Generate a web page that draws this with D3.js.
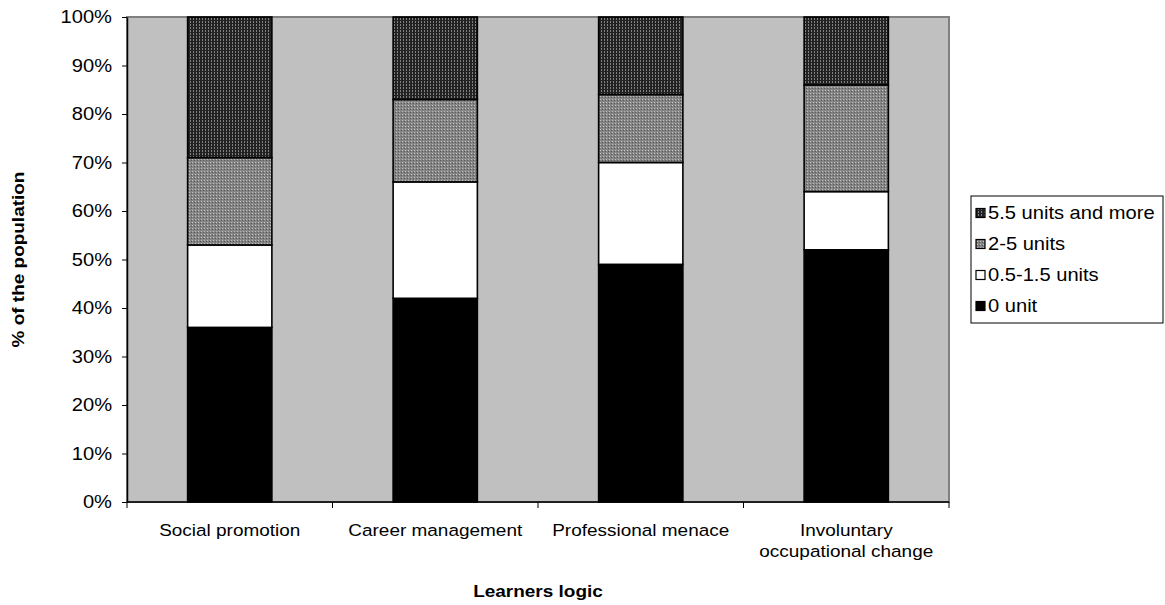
<!DOCTYPE html>
<html>
<head>
<meta charset="utf-8">
<script src="https://cdn.jsdelivr.net/npm/d3@7"></script>
<style>
  body { margin: 0; background: #fff; }
  text { font-family: "Liberation Sans", Arial, sans-serif; }
</style>
</head>
<body>
<svg width="1165" height="605"></svg>
<script>
// data
var categories = ["Social promotion", "Career management", "Professional menace", "Involuntary occupational change"];
var catLines = [["Social promotion"], ["Career management"], ["Professional menace"], ["Involuntary", "occupational change"]];
var seriesNames = ["0 unit", "0.5-1.5 units", "2-5 units", "5.5 units and more"];
var zeroUnit = [36, 42, 49, 52];
var halfUnits = [17, 24, 21, 12];
var twoFive = [18, 17, 14, 22];
var fivePlus = [29, 17, 16, 14];
var yTicks = [0, 10, 20, 30, 40, 50, 60, 70, 80, 90, 100];

var svg = d3.select('svg');
// plot box (note: "top" is a window global, so use other names)
var plotL = 127, plotR = 949, plotT = 17, plotB = 502;
var fs = 16.5, sx = 1.15; // the original chart looks stretched sideways

// stretched text helper
function stext(sel, x, y, rot, size) {
  return sel.append('g')
    .attr('transform', 'translate(' + x + ',' + y + ')' + (rot ? ' rotate(' + rot + ')' : '') + ' scale(' + sx + ',1)')
    .append('text').attr('font-size', size || fs).attr('fill', '#000');
}

// patterns
var defs = svg.append('defs');
var pDark = defs.append('pattern').attr('id', 'pdark').attr('patternUnits', 'userSpaceOnUse')
  .attr('width', 3).attr('height', 3);
pDark.append('rect').attr('width', 3).attr('height', 3).attr('fill', '#222');
pDark.append('rect').attr('x', 1).attr('y', 0).attr('width', 1).attr('height', 2).attr('fill', '#808080');
var pMid = defs.append('pattern').attr('id', 'pmid').attr('patternUnits', 'userSpaceOnUse')
  .attr('width', 3).attr('height', 3);
pMid.append('rect').attr('width', 3).attr('height', 3).attr('fill', '#858585');
pMid.append('rect').attr('x', 0).attr('y', 0).attr('width', 1).attr('height', 1).attr('fill', '#bdbdbd');
pMid.append('rect').attr('x', 2).attr('y', 1).attr('width', 1).attr('height', 1).attr('fill', '#555');

var fills = ['#000', '#fff', 'url(#pmid)', 'url(#pdark)'];

var x = d3.scaleBand().domain(categories).range([plotL, plotR]).paddingInner(0.59).paddingOuter(0.295);
var y = d3.scaleLinear().domain([0, 100]).range([plotB, plotT]);

// plot area
svg.append('rect').attr('x', plotL).attr('y', plotT).attr('width', plotR - plotL).attr('height', plotB - plotT)
  .attr('fill', '#c0c0c0').attr('stroke', '#808080').attr('stroke-width', 2);

// stack
var rows = categories.map((c, i) => ({
  cat: c, "0 unit": zeroUnit[i], "0.5-1.5 units": halfUnits[i], "2-5 units": twoFive[i], "5.5 units and more": fivePlus[i]
}));
var stacked = d3.stack().keys(seriesNames)(rows);

svg.append('g').selectAll('g').data(stacked).join('g')
  .attr('fill', (d, i) => fills[i])
  .selectAll('rect').data(d => d).join('rect')
  .attr('x', d => x(d.data.cat))
  .attr('y', d => y(d[1]))
  .attr('width', x.bandwidth())
  .attr('height', d => y(d[0]) - y(d[1]))
  .attr('stroke', '#000').attr('stroke-width', 1.6);

// y axis
var yAxis = svg.append('g').attr('transform', 'translate(' + plotL + ',0)')
  .call(d3.axisLeft(y).tickValues(yTicks).tickFormat(d => d + '%').tickSize(5).tickSizeOuter(0));
yAxis.select('.domain').attr('stroke', '#000').attr('stroke-width', 1.5);
yAxis.selectAll('.tick line').attr('stroke', '#000');
yAxis.selectAll('text').attr('font-size', 17.5).attr('fill', '#000')
  .attr('x', -15 / sx).attr('transform', 'scale(' + sx + ',1)')
  .style('font-family', '"Liberation Sans", Arial, sans-serif');

// x axis
var xa = svg.append('g');
xa.append('line').attr('x1', plotL).attr('x2', plotR).attr('y1', plotB).attr('y2', plotB)
  .attr('stroke', '#000').attr('stroke-width', 1.5);
var step = x.step();
d3.range(categories.length + 1).forEach(i => {
  var xx = plotL + i * step;
  xa.append('line').attr('x1', xx).attr('x2', xx).attr('y1', plotB).attr('y2', plotB + 6).attr('stroke', '#000');
});
categories.forEach((c, i) => {
  var t = stext(xa, x(c) + x.bandwidth() / 2, 536).attr('text-anchor', 'middle');
  catLines[i].forEach((l, j) => t.append('tspan').attr('x', 0).attr('dy', j ? 21 : 0).text(l));
});

// axis titles
stext(svg, (plotL + plotR) / 2, 597).attr('text-anchor', 'middle')
  .attr('font-weight', 'bold').text('Learners logic');
stext(svg, 24, (plotT + plotB) / 2, -90).attr('text-anchor', 'middle')
  .attr('font-weight', 'bold').text('% of the population');

// legend
var lg = svg.append('g').attr('transform', 'translate(971,196)');
lg.append('rect').attr('width', 192).attr('height', 127).attr('fill', '#fff').attr('stroke', '#000');
var order = [3, 2, 1, 0];
order.forEach((s, k) => {
  var yy = 17 + k * 31;
  lg.append('rect').attr('x', 5).attr('y', yy - 4.5).attr('width', 9).attr('height', 9)
    .attr('fill', fills[s]).attr('stroke', '#000').attr('stroke-width', 1.2);
  stext(lg, 17, yy + 6, 0, 17.5).text(seriesNames[s]);
});
</script>
</body>
</html>
